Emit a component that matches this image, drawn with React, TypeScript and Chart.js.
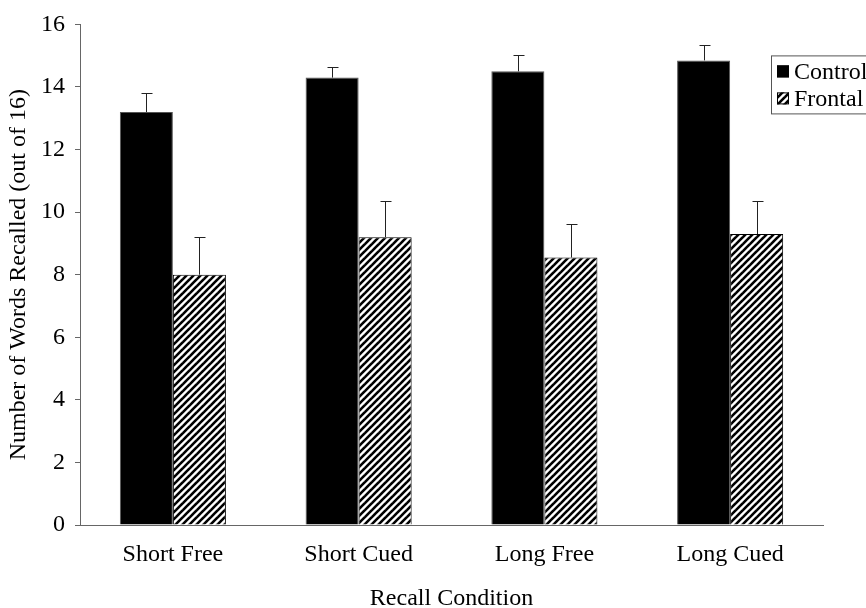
import React, { useEffect, useRef } from 'react';
import { Chart, registerables } from 'chart.js';

Chart.register(...registerables);

const categories = ['Short Free', 'Short Cued', 'Long Free', 'Long Cued'];
const seriesNames = ['Control', 'Frontal'];
const controlMeans = [13.2, 14.3, 14.5, 14.85];
const controlErrors = [0.62, 0.33, 0.52, 0.48];
const frontalMeans = [8.0, 9.2, 8.55, 9.3];
const frontalErrors = [1.2, 1.17, 1.06, 1.04];
const yMin = 0;
const yMax = 16;
const yStep = 2;
const xTitle = 'Recall Condition';
const yTitle = 'Number of Words Recalled (out of 16)';

const FONT = 'Liberation Serif';

function makeHatch(): CanvasPattern | string {
  const s = 7;
  const c = document.createElement('canvas');
  c.width = s;
  c.height = s;
  const g = c.getContext('2d');
  if (!g) return '#888';
  g.fillStyle = '#fff';
  g.fillRect(0, 0, s, s);
  g.strokeStyle = '#000';
  g.lineWidth = 2.6;
  for (const o of [-s, 0, s]) {
    g.beginPath();
    g.moveTo(o - 1, s + 1);
    g.lineTo(o + s + 1, -1);
    g.stroke();
  }
  return g.createPattern(c, 'repeat') || '#888';
}

const errorBarPlugin = {
  id: 'errorBars',
  afterDatasetsDraw(chart: any) {
    const ctx = chart.ctx;
    const yScale = chart.scales.y;
    ctx.save();
    ctx.strokeStyle = '#222';
    ctx.lineWidth = 1;
    chart.data.datasets.forEach((ds: any, di: number) => {
      const meta = chart.getDatasetMeta(di);
      meta.data.forEach((bar: any, i: number) => {
        const v = ds.data[i];
        const e = ds.errors[i];
        const x = Math.round(bar.x) + 0.5;
        const y0 = bar.y;
        const y1 = Math.round(yScale.getPixelForValue(v + e)) + 0.5;
        ctx.beginPath();
        ctx.moveTo(x, y0);
        ctx.lineTo(x, y1);
        ctx.moveTo(x - 5, y1);
        ctx.lineTo(x + 6, y1);
        ctx.stroke();
      });
    });
    ctx.restore();
  },
};

const boxLegendPlugin = {
  id: 'boxLegend',
  afterDraw(chart: any) {
    const ctx = chart.ctx;
    const area = chart.chartArea;
    const left = area.right - 52;
    const top = area.top + 31;
    ctx.save();
    ctx.fillStyle = '#fff';
    ctx.fillRect(left + 0.5, top + 0.5, 120, 58);
    ctx.strokeStyle = '#555';
    ctx.lineWidth = 1;
    ctx.strokeRect(left + 0.5, top + 0.5, 120, 58);
    ctx.font = `24px "${FONT}"`;
    ctx.textBaseline = 'middle';
    ctx.textAlign = 'left';
    chart.data.datasets.forEach((ds: any, i: number) => {
      const cy = top + 16 + i * 27;
      ctx.fillStyle = ds.backgroundColor;
      ctx.fillRect(left + 6, cy - 6, 12, 12);
      ctx.strokeStyle = '#000';
      ctx.strokeRect(left + 6.5, cy - 5.5, 11, 11);
      ctx.fillStyle = '#000';
      ctx.fillText(ds.label, left + 23, cy + 1);
    });
    ctx.restore();
  },
};

export default function App() {
  const canvasRef = useRef<HTMLCanvasElement | null>(null);

  useEffect(() => {
    if (!canvasRef.current) return;
    const hatch = makeHatch();
    const font = { family: FONT, size: 24 };
    const chart = new Chart(canvasRef.current, {
      type: 'bar',
      data: {
        labels: categories,
        datasets: [
          {
            label: seriesNames[0],
            data: controlMeans,
            errors: controlErrors,
            backgroundColor: '#000',
            borderColor: '#555',
            borderWidth: 1,
            categoryPercentage: 0.571,
            barPercentage: 1,
          } as any,
          {
            label: seriesNames[1],
            data: frontalMeans,
            errors: frontalErrors,
            backgroundColor: hatch,
            borderColor: '#000',
            borderWidth: 1,
            categoryPercentage: 0.571,
            barPercentage: 1,
          } as any,
        ],
      },
      options: {
        responsive: false,
        animation: false,
        layout: { padding: { top: 24, right: 43, left: 0, bottom: 0 } },
        plugins: {
          legend: { display: false },
          tooltip: { enabled: false },
        },
        scales: {
          x: {
            ticks: { color: '#000', font, padding: 15 },
            grid: { display: false, drawTicks: false },
            border: { display: true, color: '#666', width: 1 },
            title: {
              display: true,
              text: xTitle,
              color: '#000',
              font,
              padding: { top: 0, bottom: -5 },
            },
            afterFit: (s: any) => {
              s.height = 83;
            },
          },
          y: {
            min: yMin,
            max: yMax,
            ticks: { stepSize: yStep, color: '#000', font, padding: 10 },
            grid: {
              display: true,
              drawOnChartArea: false,
              drawTicks: true,
              tickLength: 5,
              color: '#666',
            },
            border: { display: true, color: '#666', width: 1 },
            title: {
              display: true,
              text: yTitle,
              color: '#000',
              font,
              padding: { top: 4, bottom: 0 },
            },
            afterFit: (s: any) => {
              s.width = 80;
            },
          },
        },
      } as any,
      plugins: [errorBarPlugin, boxLegendPlugin],
    });
    return () => chart.destroy();
  }, []);

  return (
    <div style={{ position: 'fixed', left: 0, top: 0, width: 866, height: 608, background: '#fff' }}>
      <canvas ref={canvasRef} width={866} height={608} />
    </div>
  );
}
